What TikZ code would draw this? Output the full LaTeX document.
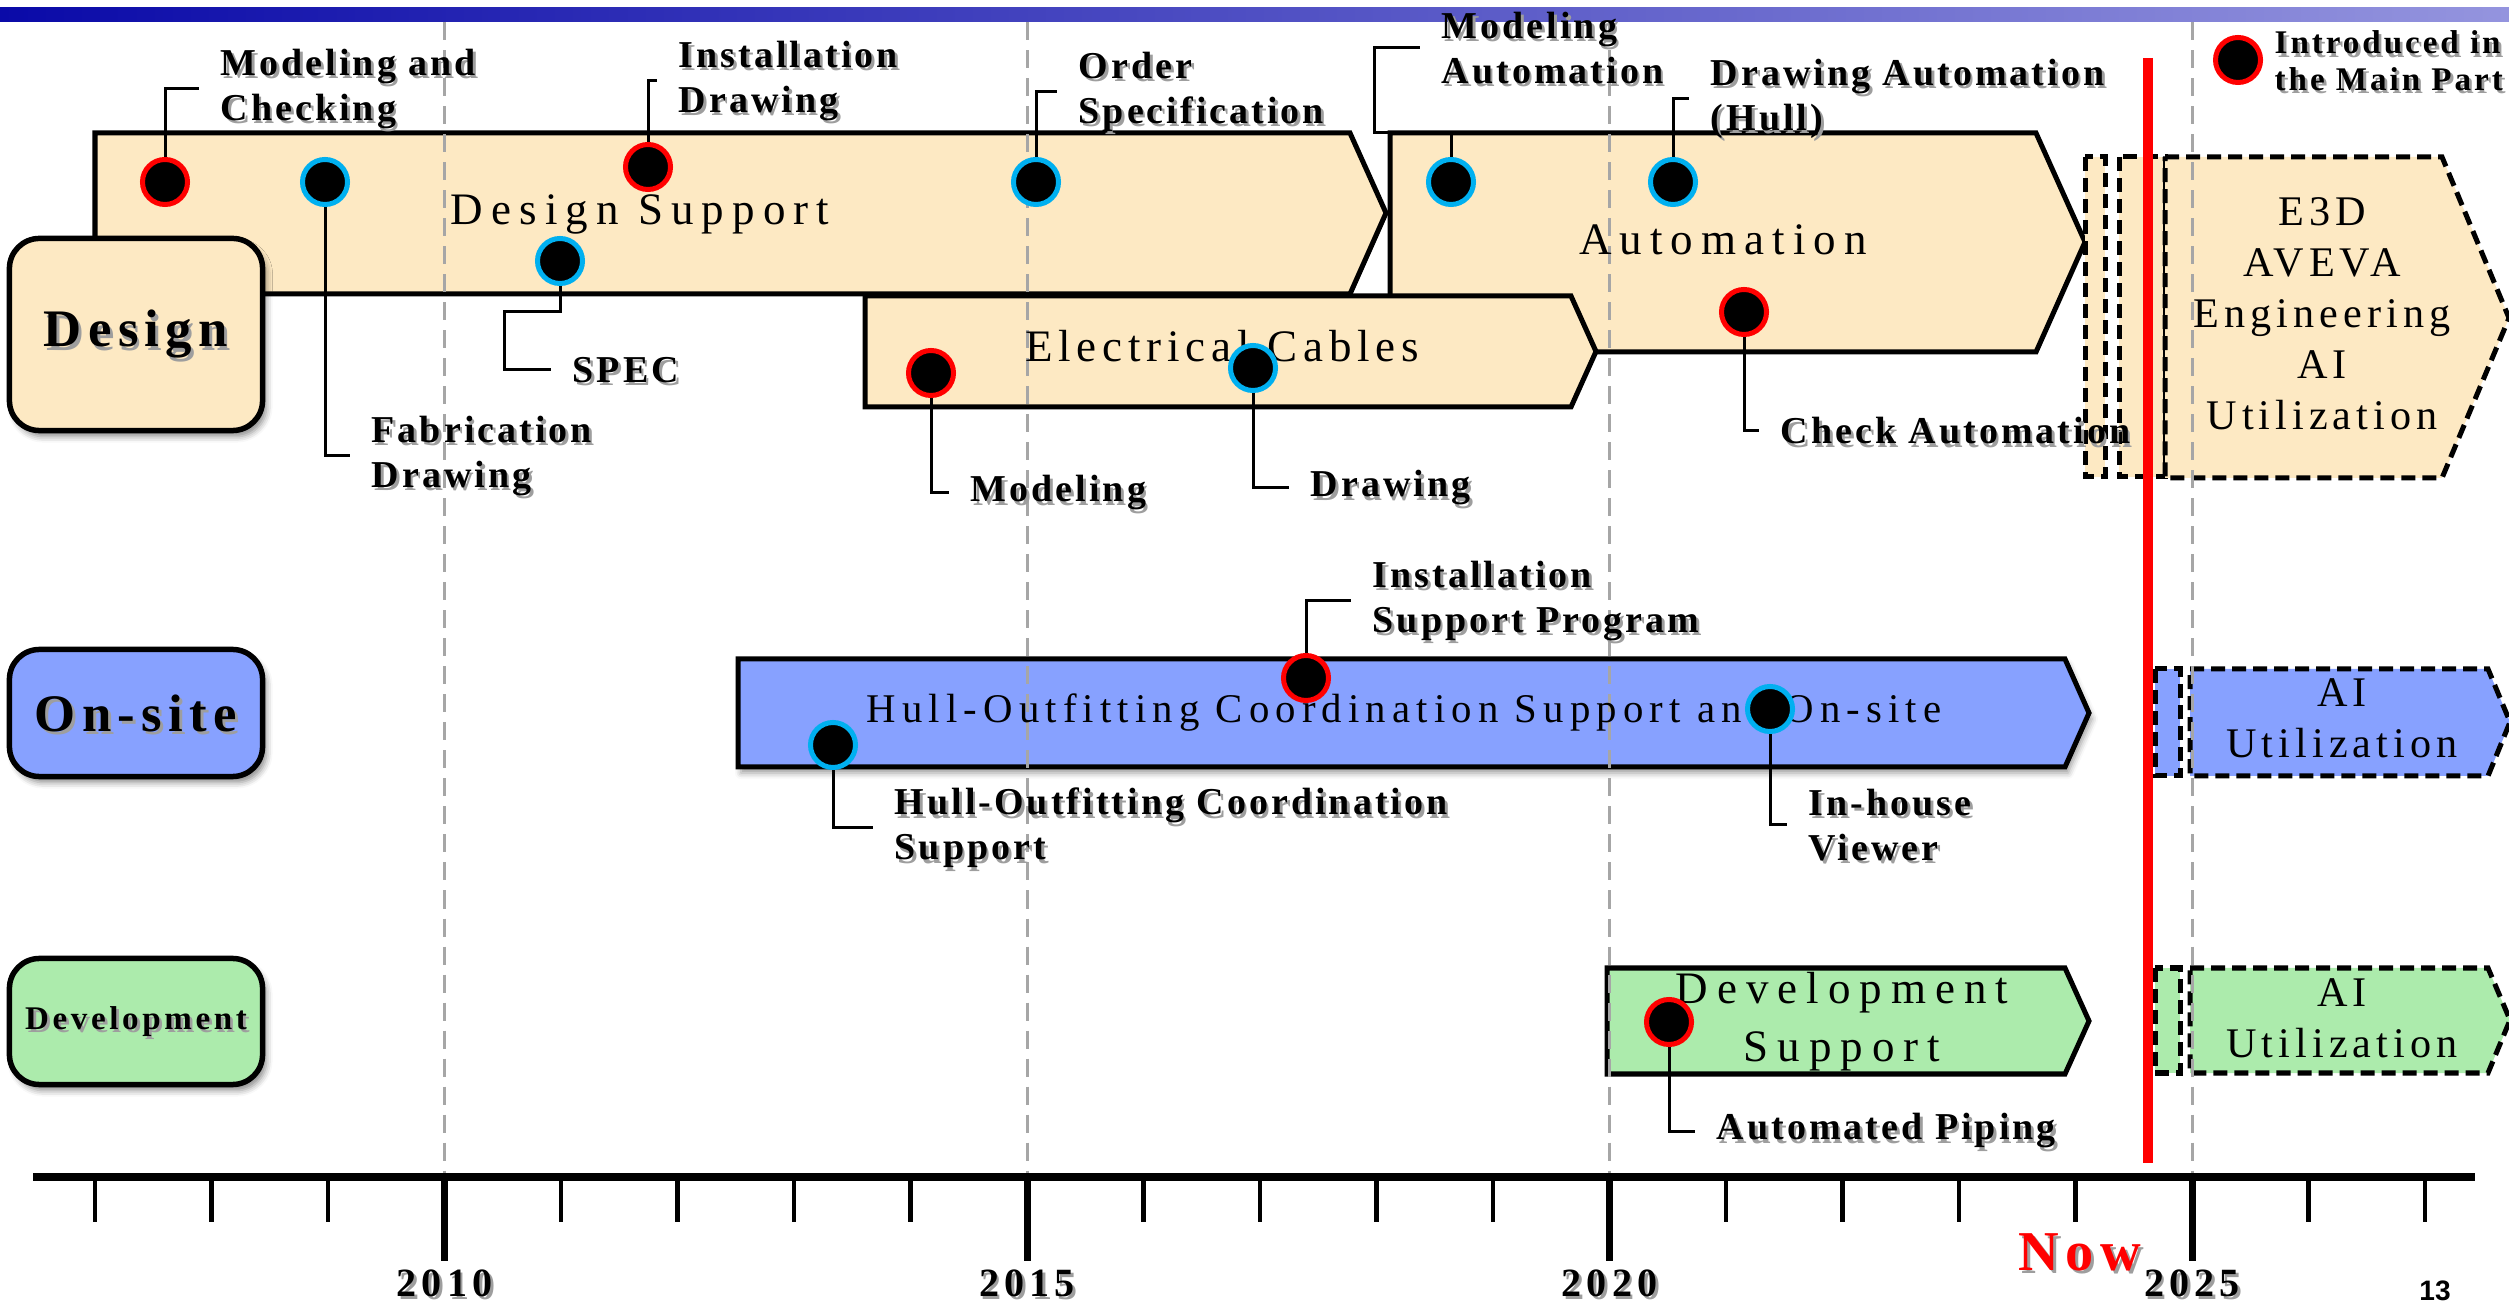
\documentclass[tikz,border=0pt]{standalone}
\usepackage{fontspec}
\setmainfont{Liberation Serif}
\newfontfamily\pagenumfont{Liberation Sans}
\usetikzlibrary{shadows.blur}

\definecolor{peach}{HTML}{FDE9C3}
\definecolor{periwinkle}{HTML}{87A1FF}
\definecolor{mint}{HTML}{ACEBAC}
\definecolor{ringblue}{HTML}{00B0F0}
\definecolor{gridgray}{HTML}{A6A6A6}
\definecolor{titleL}{HTML}{0A0AA8}
\definecolor{titleR}{HTML}{9494DE}

% text with a soft grey copy set slightly down and to the right
\newcommand\shadowtext[4]{%
  \node[#2, text=black!38, xshift=0.028cm, yshift=-0.032cm] (#1-sh) at #3 {#4};
  \node[#2] (#1) at #3 {#4};}

\begin{document}
\begin{tikzpicture}[x=0.01cm, y=-0.01cm,
  bar/.style={draw=black, line width=0.05cm, line join=miter},
  plan/.style={draw=black, line width=0.05cm, dash pattern=on 0.14cm off 0.07cm},
  catbox/.style={draw=black, line width=0.055cm, rounded corners=0.3cm,
    minimum width=2.53cm, inner sep=0pt,
    blur shadow={shadow xshift=0.04cm, shadow yshift=-0.06cm,
      shadow blur radius=0.06cm, shadow opacity=45}},
  catlabel/.style={inner sep=0pt, font={\bfseries\fontsize{15}{17}\selectfont\addfontfeatures{LetterSpace=12}}},
  gridline/.style={draw=gridgray, line width=0.03cm, dash pattern=on 0.18cm off 0.1cm},
  evtR/.style={circle, fill=black, draw=red, line width=0.05cm, minimum size=0.45cm, inner sep=0pt},
  evtB/.style={evtR, draw=ringblue},
  leader/.style={draw=black, line width=0.03cm},
  callout/.style={anchor=west, inner ysep=0pt, inner xsep=0.21cm, align=left,
    font={\bfseries\fontsize{10.8}{12.8}\selectfont\addfontfeatures{LetterSpace=8}}},
  barlabel/.style={anchor=base, inner sep=0pt, align=center,
    font={\fontsize{12.8}{15}\selectfont\addfontfeatures{LetterSpace=#1}}},
  planlabel/.style={inner sep=0pt, align=center,
    font={\fontsize{12}{14.4}\selectfont\addfontfeatures{LetterSpace=#1}}},
  yearlabel/.style={anchor=base, inner sep=0pt,
    font={\bfseries\fontsize{11.4}{13}\selectfont\addfontfeatures{LetterSpace=13}}},
  tick/.style={line width=0.045cm},
  majortick/.style={line width=0.07cm}
]
\useasboundingbox (0,0) rectangle (2509,1304);

% header band
\shade[left color=titleL, right color=titleR] (0,8) rectangle (2509,22);

% ---- Design row bars
\filldraw[bar, fill=peach] (95,133) -- (1350,133) -- (1386,213) -- (1350,294) -- (95,294) -- cycle;
\filldraw[bar, fill=peach] (1390,133) -- (2036,133) -- (2085,242) -- (2036,352) -- (1390,352) -- cycle;
\filldraw[bar, fill=peach] (865,296) -- (1571,296) -- (1596,351.5) -- (1571,407) -- (865,407) -- cycle;

% ---- On-site bar
\filldraw[bar, fill=periwinkle, blur shadow={shadow xshift=0.03cm, shadow yshift=-0.06cm,
  shadow blur radius=0.06cm, shadow opacity=40}]
  (738,659) -- (2065,659) -- (2089,713) -- (2065,767) -- (738,767) -- cycle;

% ---- Development bar
\filldraw[bar, fill=mint] (1607,968) -- (2065,968) -- (2089,1021) -- (2065,1074) -- (1607,1074) -- cycle;

% ---- planned (dashed) blocks
\filldraw[plan, fill=peach] (2085,157) rectangle (2105,477);
\filldraw[plan, fill=peach] (2119,157) rectangle (2165,477);
\filldraw[plan, fill=peach] (2165,157) -- (2442,157) -- (2509,318) -- (2442,478) -- (2165,478) -- cycle;
\filldraw[plan, fill=periwinkle] (2155,669) rectangle (2180,776);
\filldraw[plan, fill=periwinkle] (2190,669) -- (2488,669) -- (2510,722) -- (2488,776) -- (2190,776) -- cycle;
\filldraw[plan, fill=mint] (2155,968) rectangle (2180,1073);
\filldraw[plan, fill=mint] (2190,968) -- (2488,968) -- (2510,1020) -- (2488,1073) -- (2190,1073) -- cycle;

% ---- five-year grid lines
\foreach \gx in {444.5,1027,1609.5,2192}
  \draw[gridline] (\gx,22) -- (\gx,1177);

% ---- category boxes
\node[catbox, fill=peach, minimum height=1.92cm] (design) at (136,334.5) {};
\node[catbox, fill=periwinkle, minimum height=1.27cm] (onsite) at (136,713) {};
\node[catbox, fill=mint, minimum height=1.26cm] (devel) at (136,1021.5) {};
\shadowtext{tDesign}{catlabel}{(design.center)}{Design}
\shadowtext{tOnsite}{catlabel}{(onsite.center)}{On-site}
\shadowtext{tDevel}{catlabel, font={\bfseries\fontsize{9.4}{11}\selectfont\addfontfeatures{LetterSpace=11}}}{(devel.center)}{Development}

% ---- bar labels
\node[barlabel=18] (tDS) at (640,225) {Design Support};
\node[barlabel=18] (tAU) at (1723,255) {Automation};
\node[barlabel=13] (tEC) at (1222,362) {Electrical Cables};
\node[barlabel=15, font={\fontsize{11.6}{14}\selectfont\addfontfeatures{LetterSpace=15}}] (tHC) at (1404,723)
  {Hull-Outfitting Coordination Support and On-site};
\node[barlabel=20, font={\fontsize{12.8}{16.5}\selectfont\addfontfeatures{LetterSpace=20}}, anchor=center] (tDV) at (1842,1022) {Development\\Support};
\node[planlabel=12, font={\fontsize{12}{14.5}\selectfont\addfontfeatures{LetterSpace=12}}] (tE3D) at (2322,314) {E3D\\AVEVA\\Engineering\\AI\\Utilization};
\node[planlabel=12] (tAIo) at (2342,718) {AI\\Utilization};
\node[planlabel=12] (tAId) at (2342,1018) {AI\\Utilization};

% ---- time axis
\coordinate (axL) at (33,1177);
\coordinate (axR) at (2475,1177);
\draw[line width=0.08cm] (axL) -- (axR);
\foreach \i in {0,1,2,4,5,6,7,9,10,11,12,14,15,16,17,19,20}
  \draw[tick] (95+116.5*\i,1177) -- (95+116.5*\i,1222);
\foreach \i in {3,8,13,18}
  \draw[majortick] (95+116.5*\i,1177) -- (95+116.5*\i,1261);
\shadowtext{y2010}{yearlabel}{(444.5,1296)}{2010}
\shadowtext{y2015}{yearlabel}{(1027,1296)}{2015}
\shadowtext{y2020}{yearlabel}{(1609.5,1296)}{2020}
\shadowtext{y2025}{yearlabel}{(2192,1296)}{2025}

% ---- milestones: Design
\node[evtR] (dMC) at (165,182) {};
\node[evtB] (dFD) at (325,182) {};
\node[evtB] (dSP) at (560,261) {};
\node[evtR] (dID) at (648,167) {};
\node[evtB] (dOS) at (1036,182) {};
\node[evtR] (dEM) at (931,373) {};
\node[evtB] (dED) at (1253,368) {};
\node[evtB] (dMA) at (1451,182) {};
\node[evtB] (dDA) at (1673,182) {};
\node[evtR] (dCA) at (1744,312) {};
% ---- milestones: On-site
\node[evtR] (dIS) at (1306,678) {};
\node[evtB] (dHC) at (833,745) {};
\node[evtB] (dIV) at (1770,709) {};
% ---- milestones: Development
\node[evtR] (dAP) at (1669,1022) {};

\shadowtext{lMC}{callout}{(199,89)}{Modeling and\\Checking}
\shadowtext{lFD}{callout}{(350,456)}{Fabrication\\Drawing}
\shadowtext{lSP}{callout}{(551,370)}{SPEC}
\shadowtext{lID}{callout}{(657,81)}{Installation\\Drawing}
\shadowtext{lOS}{callout}{(1057,92)}{Order\\Specification}
\shadowtext{lEM}{callout}{(949,493)}{Modeling}
\shadowtext{lED}{callout}{(1289,488)}{Drawing}
\shadowtext{lMA}{callout}{(1420,48)}{Modeling\\Automation}
\shadowtext{lDA}{callout}{(1689,99)}{Drawing Automation\\(Hull)}
\shadowtext{lCA}{callout}{(1759,431)}{Check Automation}
\shadowtext{lIS}{callout}{(1351,601)}{Installation\\Support Program}
\shadowtext{lHC}{callout}{(873,828)}{Hull-Outfitting Coordination\\Support}
\shadowtext{lIV}{callout}{(1787,825)}{In-house\\Viewer}
\shadowtext{lAP}{callout}{(1695,1131)}{Automated Piping}

\coordinate (cSP) at (504,312);
\coordinate (cMA) at (1374,133);
\draw[leader] (dMC) |- (lMC.west);
\draw[leader] (dFD) |- (lFD.west);
\draw[leader] (dSP) |- (cSP) |- (lSP.west);
\draw[leader] (dID) |- (lID.west);
\draw[leader] (dOS) |- (lOS.west);
\draw[leader] (dEM) |- (lEM.west);
\draw[leader] (dED) |- (lED.west);
\draw[leader] (dMA) |- (cMA) |- (lMA.west);
\draw[leader] (dDA) |- (lDA.west);
\draw[leader] (dCA) |- (lCA.west);
\draw[leader] (dIS) |- (lIS.west);
\draw[leader] (dHC) |- (lHC.west);
\draw[leader] (dIV) |- (lIV.west);
\draw[leader] (dAP) |- (lAP.west);

% ---- legend
\node[evtR] (legdot) at (2238,60) {};
\shadowtext{legtext}{callout, inner xsep=0pt, font={\bfseries\fontsize{9.4}{10.5}\selectfont\addfontfeatures{LetterSpace=9}}}{(2274,61)}{Introduced in\\the Main Part}

% ---- present-day marker
\coordinate (nowTop) at (2148,58);
\coordinate (nowBot) at (2148,1163);
\draw[red, line width=0.1cm] (nowTop) -- (nowBot);
\shadowtext{nowlabel}{yearlabel, text=red, font={\bfseries\fontsize{16}{18}\selectfont\addfontfeatures{LetterSpace=12}}}{(2080,1270)}{Now}

% ---- page number
\node[anchor=base, inner sep=0pt, font={\pagenumfont\bfseries\fontsize{8}{9}\selectfont}] (pagenum) at (2435,1300) {13};
\end{tikzpicture}
\end{document}
